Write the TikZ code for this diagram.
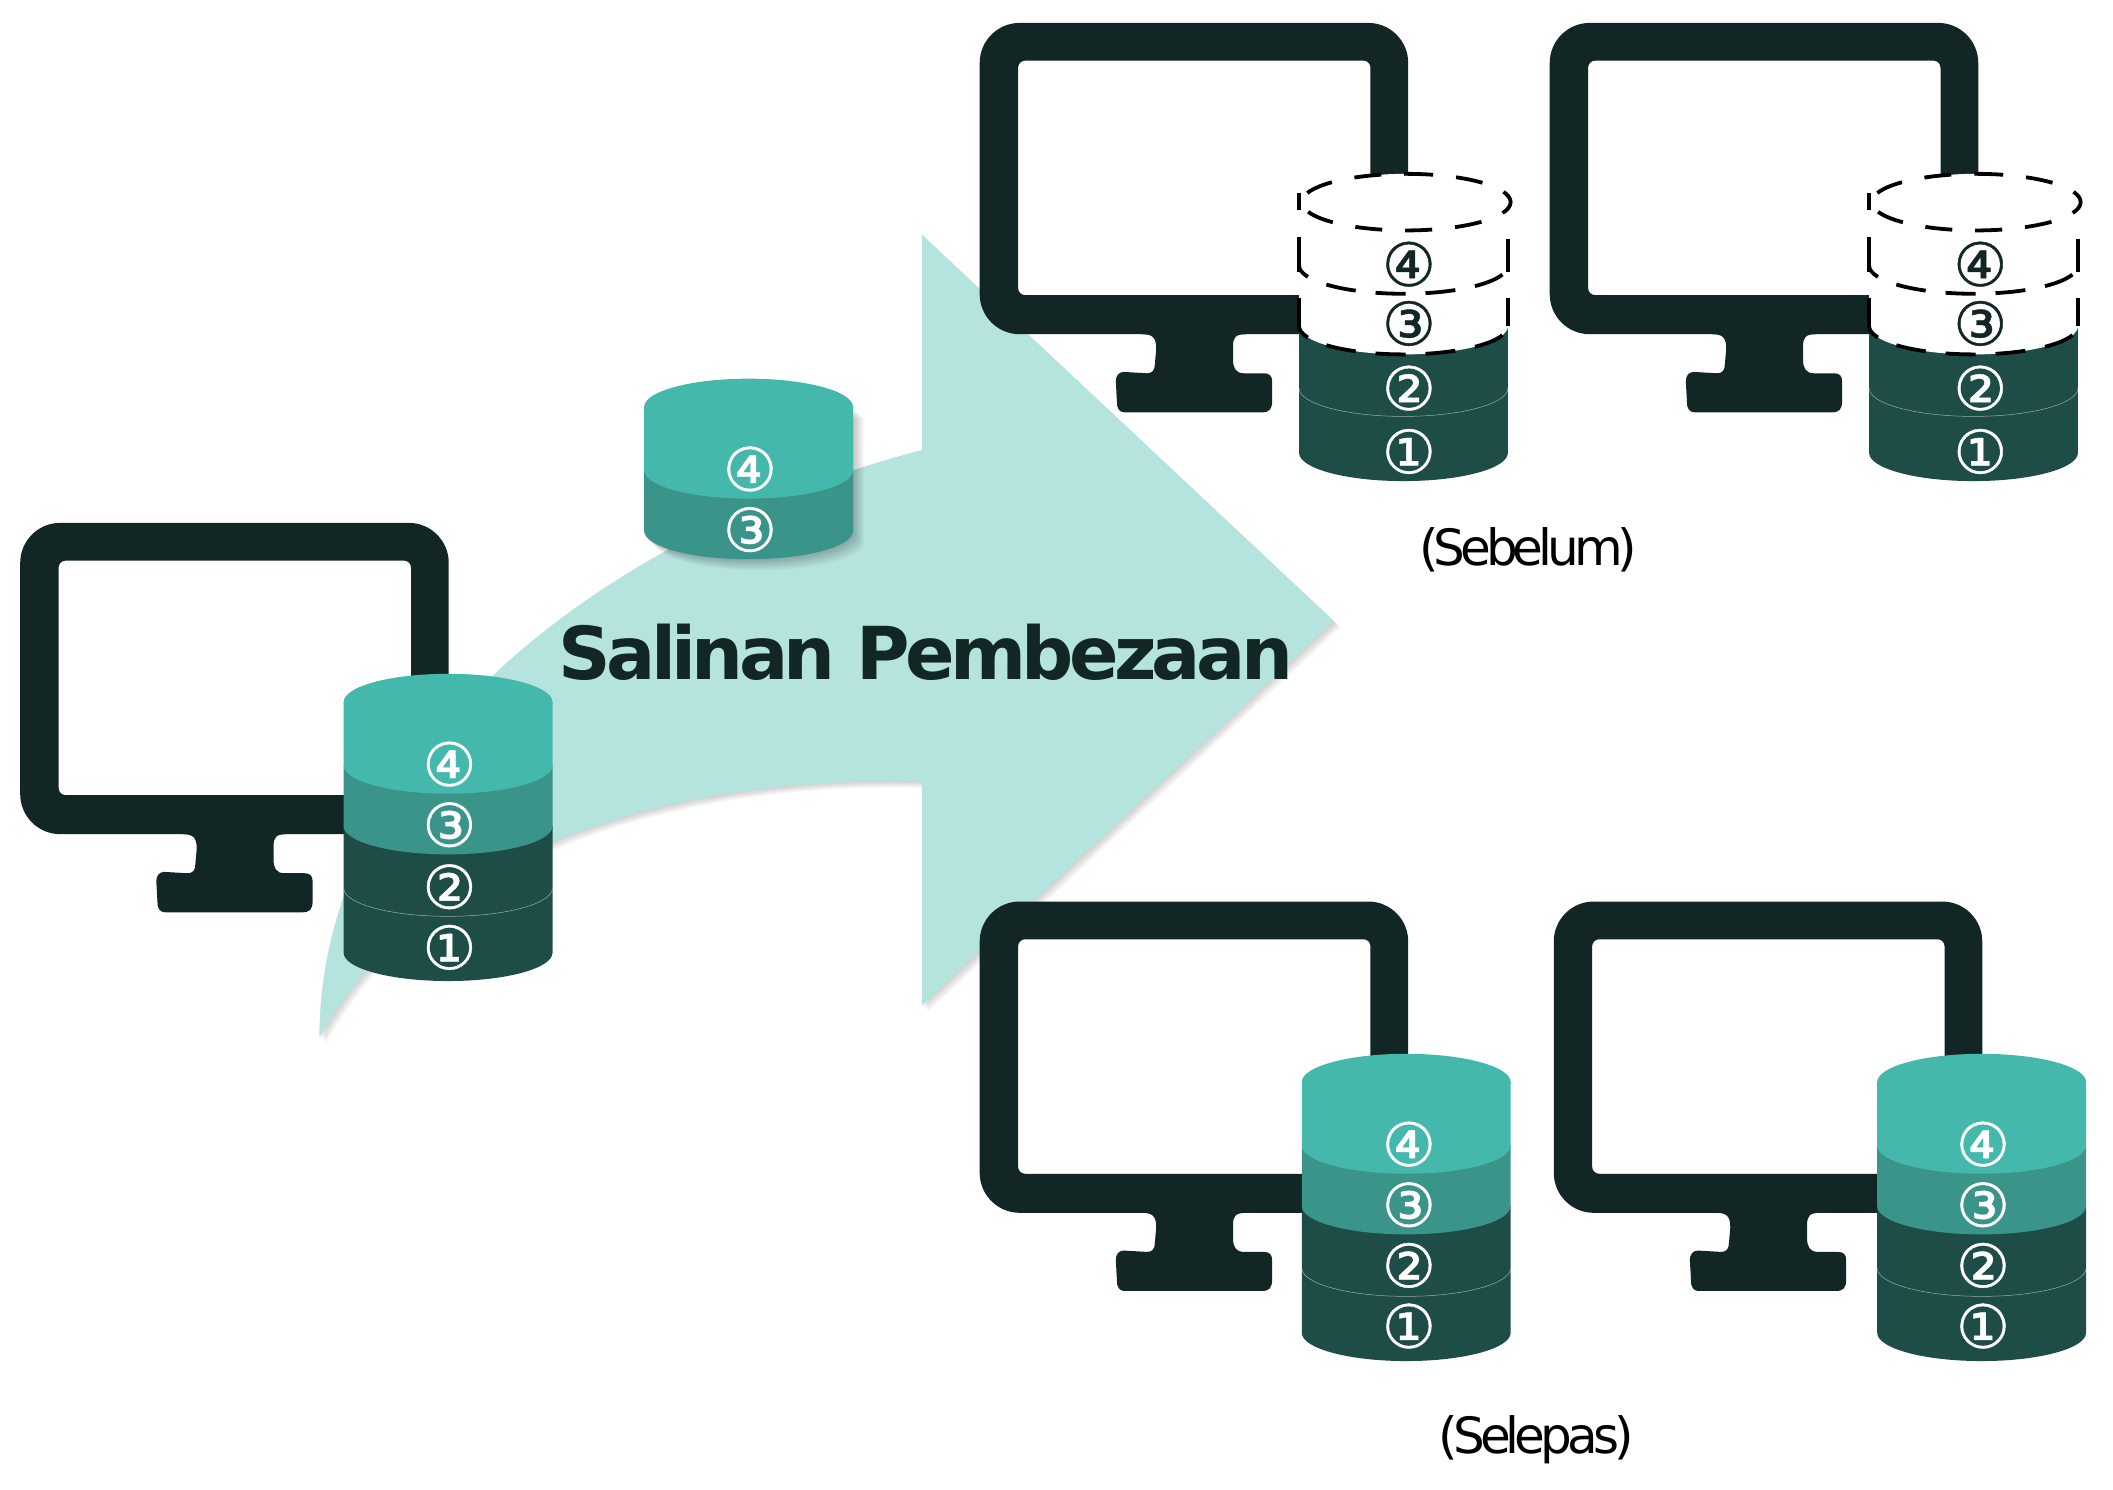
\documentclass[tikz,border=0pt]{standalone}
\usepackage{fontspec}
\setmainfont{DejaVu Sans}
\definecolor{moncol}{HTML}{122725}
\definecolor{lfour}{HTML}{45B8AC}
\definecolor{lthree}{HTML}{3A9489}
\definecolor{ltwo}{HTML}{1E4C47}
\definecolor{arrowcol}{HTML}{B5E3DD}
\newcommand{\arrowshape}{(237,770) .. controls (237,570) and (430,400) .. (684,334) -- (684,174) -- (990,461) -- (684,746) -- (684,580) .. controls (520,575) and (320,620) .. (237,770) -- cycle}
\tikzset{
  every node/.style={inner sep=0pt,outer sep=0pt},
  digitw/.style={text=white,font=\fontsize{60}{60}\selectfont\addfontfeature{FakeBold=0.7}},
  digitd/.style={text=moncol,font=\fontsize{60}{60}\selectfont\addfontfeature{FakeBold=0.7}},
  caption/.style={text=black,font=\fontsize{50}{50}\selectfont\addfontfeature{LetterSpace=-10}},
  title/.style={text=moncol,font=\bfseries\fontsize{73}{73}\selectfont\addfontfeature{LetterSpace=-6.4}},
  dashline/.style={draw=black,line width=3.8pt,dash pattern=on 30pt off 20pt},
  sideline/.style={draw=black,line width=3.8pt,dash pattern=on 35pt off 27pt},
  rimline/.style={draw=black,line width=3.8pt,dash pattern=on 27pt off 23pt},
  seam/.style={draw=white,line width=0.5pt,opacity=.55},
  pics/monitor/.style={code={
    \fill[moncol,even odd rule] [rounded corners=40pt] (0,0) rectangle (318,231)
      [rounded corners=7pt] (28.5,28) rectangle (290,202);
    \fill[moncol] (120,229) -- (120,231) .. controls (128,231) and (131,233) .. (131,242) -- (130,253)
      .. controls (130,258) and (128,260) .. (124,260) -- (107,259)
      .. controls (103,259) and (101,262) .. (101,266) -- (102,284)
      .. controls (103,288) and (105,289) .. (108,289) -- (209,289)
      .. controls (215,289) and (217,287) .. (217,280) -- (217,266)
      .. controls (217,262) and (215,260) .. (211,260) -- (196,260)
      .. controls (190,260) and (188,256) .. (188,250) -- (188,240)
      .. controls (188,233) and (190,231) .. (198,231) -- (198,229) -- cycle;
  }},
  pics/lowerlayers/.style={code={
    \fill[ltwo] (0,159) -- (0,207) arc[start angle=180,end angle=0,x radius=77.5,y radius=21] -- (155,159) -- cycle;
    \fill[ltwo] (0,113) -- (0,159) arc[start angle=180,end angle=0,x radius=77.5,y radius=21] -- (155,113) -- cycle;
    \draw[seam] (0,159) arc[start angle=180,end angle=0,x radius=77.5,y radius=21];
  }},
  pics/upperlayers/.style={code={
    \fill[lthree] (0,68) -- (0,113) arc[start angle=180,end angle=0,x radius=77.5,y radius=21] -- (155,68) -- cycle;
    \fill[lfour] (0,21) -- (0,68) arc[start angle=180,end angle=0,x radius=77.5,y radius=21] -- (155,21) -- cycle;
    \fill[lfour] (77.5,21) ellipse[x radius=77.5,y radius=21];
  }},
  pics/ghostlayers/.style={code={
    \fill[white] (0,21) rectangle (155,113);
    \fill[white] (0,113) arc[start angle=180,end angle=0,x radius=77.5,y radius=21] -- cycle;
    \fill[white] (79.5,21) ellipse[x radius=77.5,y radius=21];
    \path[dashline,dash phase=15pt] (0,113) arc[start angle=180,end angle=0,x radius=77.5,y radius=21];
    \path[dashline,dash phase=15pt] (0,68) arc[start angle=180,end angle=0,x radius=77.5,y radius=21];
    \path[sideline] (0,14) -- (0,27);
    \path[sideline] (0,47) -- (0,73);
    \path[sideline] (155,48) -- (155,73);
    \path[sideline] (0,92) -- (0,113);
    \path[sideline] (155,92) -- (155,113);
    \path[rimline] (79.5,0) arc[start angle=-90,end angle=270,x radius=77.5,y radius=21];
  }},
}
\begin{document}
\begin{tikzpicture}[x=1.3476pt,y=-1.3476pt]
\useasboundingbox (0,0) rectangle (1568,1105);
% big arrow with soft shadow
\foreach \s in {1,...,8}
  \fill[black,opacity=.025,shift={(\s*0.6,\s*0.6)}] \arrowshape;
\fill[arrowcol] \arrowshape;
% monitors
\pic at (15,388) {monitor};
\pic at (727,17) {monitor};
\pic at (1150,17) {monitor};
\pic at (727,669) {monitor};
\pic at (1153,669) {monitor};
% source store
\pic at (255,500) {lowerlayers};
\pic at (255,500) {upperlayers};
\node[digitw] (sfour) at (333.5,567) {④};
\node[digitw] (sthree) at (333.5,612) {③};
\node[digitw] (stwo) at (333.5,658) {②};
\node[digitw] (sone) at (333.5,703) {①};
% difference packet
\foreach \s in {1,...,9}
  \fill[black,opacity=.028,shift={(478+\s*0.9,281+\s*0.9)}] (0,21) -- (0,113) arc[start angle=180,end angle=0,x radius=77.5,y radius=21] -- (155,21) -- cycle;
\pic at (478,281) {upperlayers};
\node[digitw] (pfour) at (556.5,348) {④};
\node[digitw] (pthree) at (556.5,393) {③};
% before
\pic at (964,129) {lowerlayers};
\pic at (964,129) {ghostlayers};
\node[digitd] (afour) at (1045.5,196) {④};
\node[digitd] (athree) at (1045.5,240) {③};
\node[digitw] (atwo) at (1045.5,288) {②};
\node[digitw] (aone) at (1045.5,335) {①};
\pic at (1387,129) {lowerlayers};
\pic at (1387,129) {ghostlayers};
\node[digitd] (bfour) at (1469.5,196) {④};
\node[digitd] (bthree) at (1469.5,240) {③};
\node[digitw] (btwo) at (1469.5,288) {②};
\node[digitw] (bone) at (1469.5,335) {①};
% after
\pic at (966,782) {lowerlayers};
\pic at (966,782) {upperlayers};
\node[digitw] (cfour) at (1045.5,849) {④};
\node[digitw] (cthree) at (1045.5,894) {③};
\node[digitw] (ctwo) at (1045.5,939) {②};
\node[digitw] (cone) at (1045.5,984) {①};
\pic at (1393,782) {lowerlayers};
\pic at (1393,782) {upperlayers};
\node[digitw] (dfour) at (1471.5,849) {④};
\node[digitw] (dthree) at (1471.5,894) {③};
\node[digitw] (dtwo) at (1471.5,939) {②};
\node[digitw] (done) at (1471.5,984) {①};
% texts
\node[title] (heading) at (687,484) {Salinan Pembezaan};
\node[caption] (before) at (1134,408) {(Sebelum)};
\node[caption] (after) at (1140,1068) {(Selepas)};
\end{tikzpicture}
\end{document}
